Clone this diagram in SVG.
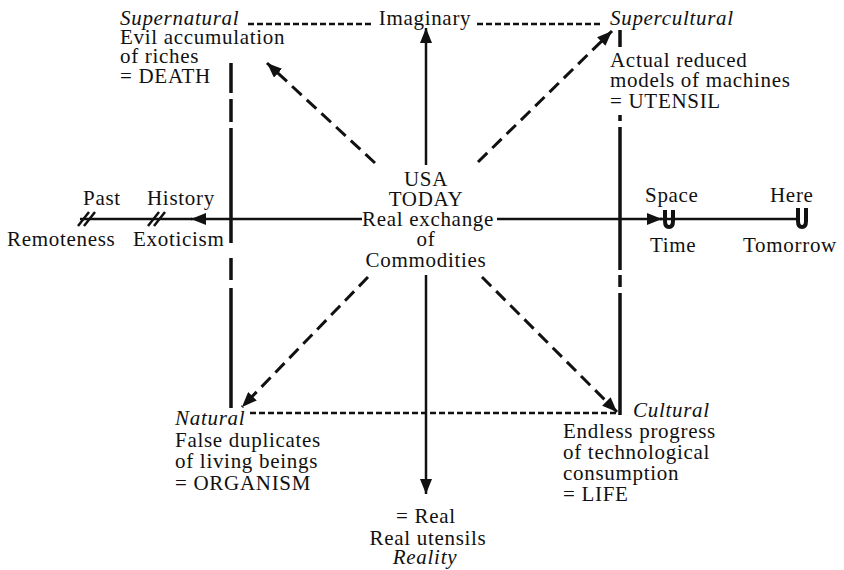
<svg xmlns="http://www.w3.org/2000/svg" width="844" height="570" viewBox="0 0 844 570" font-family="Liberation Serif, Times New Roman, serif">
<defs>
<style>
text{font-size:21px;fill:#111;letter-spacing:0.7px}
.it{font-style:italic}
.c{text-anchor:middle}
.solid{stroke:#111;stroke-width:2.5;fill:none}
.thick{stroke:#111;stroke-width:3.5;fill:none}
.dash{stroke:#111;stroke-width:3;fill:none;stroke-dasharray:13 7}
.dot{stroke:#111;stroke-width:2.5;fill:none;stroke-dasharray:6 3}
.u{stroke:#111;stroke-width:4;fill:none}
</style>
<marker id="ah" viewBox="0 0 15 12" refX="15" refY="6" markerWidth="15" markerHeight="12" orient="auto" markerUnits="userSpaceOnUse">
<path d="M0,0 L15,6 L0,12 z" fill="#111"/>
</marker>
</defs>
<rect width="844" height="570" fill="#fff"/>

<g id="connectors">
<line class="dot" x1="248" y1="24" x2="373" y2="24"/>
<line class="dot" x1="477" y1="24" x2="603" y2="24"/>
<line class="dot" x1="250" y1="413" x2="617" y2="413"/>
<path class="thick" d="M231,63V93M231,99V122M231,128V243M231,258V280M231,288V408"/>
<path class="thick" d="M620,30V47M620,115V121M620,127V270M620,275V287M620,293V415"/>
<line class="solid" x1="426" y1="165" x2="426" y2="28" marker-end="url(#ah)"/>
<line class="solid" x1="426" y1="275" x2="426" y2="494" marker-end="url(#ah)"/>
<line class="solid" x1="362" y1="219" x2="191" y2="219" marker-end="url(#ah)"/>
<line class="solid" x1="192" y1="219" x2="80" y2="219"/>
<line class="solid" x1="497" y1="219" x2="662" y2="219" marker-end="url(#ah)"/>
<line class="solid" x1="660" y1="219" x2="797" y2="219"/>
<path class="solid" stroke-width="2" d="M78,226L89,212M84,226L95,212M148,226L159,212M154,226L165,212"/>
<path class="u" d="M665,210V221Q665,227 669,227Q673,227 673,221V210"/>
<path class="u" d="M798,208V221Q798,227 802,227Q806,227 806,221V208"/>
<line class="dash" x1="375" y1="163" x2="267" y2="63" marker-end="url(#ah)"/>
<line class="dash" x1="478" y1="162" x2="612" y2="31" marker-end="url(#ah)"/>
<line class="dash" x1="368" y1="277" x2="242" y2="407" marker-end="url(#ah)"/>
<line class="dash" x1="482" y1="277" x2="617" y2="412" marker-end="url(#ah)"/>
</g>

<g id="center">
<text class="c" x="426" y="186">USA</text>
<text class="c" x="426" y="206">TODAY</text>
<text class="c" x="428" y="226">Real exchange</text>
<text class="c" x="426" y="246">of</text>
<text class="c" x="426" y="267">Commodities</text>
</g>

<g id="imaginary">
<text class="c" x="425" y="25">Imaginary</text>
</g>

<g id="real">
<text class="c" x="426" y="523">= Real</text>
<text class="c" x="428" y="545">Real utensils</text>
<text class="c it" x="425" y="564">Reality</text>
</g>

<g id="supernatural">
<text class="it" x="120" y="25">Supernatural</text>
<text x="120" y="44">Evil accumulation</text>
<text x="120" y="63">of riches</text>
<text x="120" y="83">= DEATH</text>
</g>

<g id="supercultural">
<text class="it" x="610" y="25">Supercultural</text>
<text x="610" y="67">Actual reduced</text>
<text x="610" y="87">models of machines</text>
<text x="610" y="108">= UTENSIL</text>
</g>

<g id="natural">
<text class="it" x="175" y="425">Natural</text>
<text x="175" y="447">False duplicates</text>
<text x="175" y="468">of living beings</text>
<text x="175" y="490">= ORGANISM</text>
</g>

<g id="cultural">
<text class="it" x="633" y="417">Cultural</text>
<text x="563" y="438">Endless progress</text>
<text x="563" y="459">of technological</text>
<text x="563" y="480">consumption</text>
<text x="563" y="501">= LIFE</text>
</g>

<g id="past">
<text x="83" y="205">Past</text>
<text x="7" y="246">Remoteness</text>
</g>
<g id="history">
<text x="147" y="205">History</text>
<text x="133" y="246">Exoticism</text>
</g>
<g id="space">
<text x="645" y="202">Space</text>
<text x="650" y="252">Time</text>
</g>
<g id="here">
<text x="770" y="202">Here</text>
<text x="743" y="252">Tomorrow</text>
</g>
</svg>
